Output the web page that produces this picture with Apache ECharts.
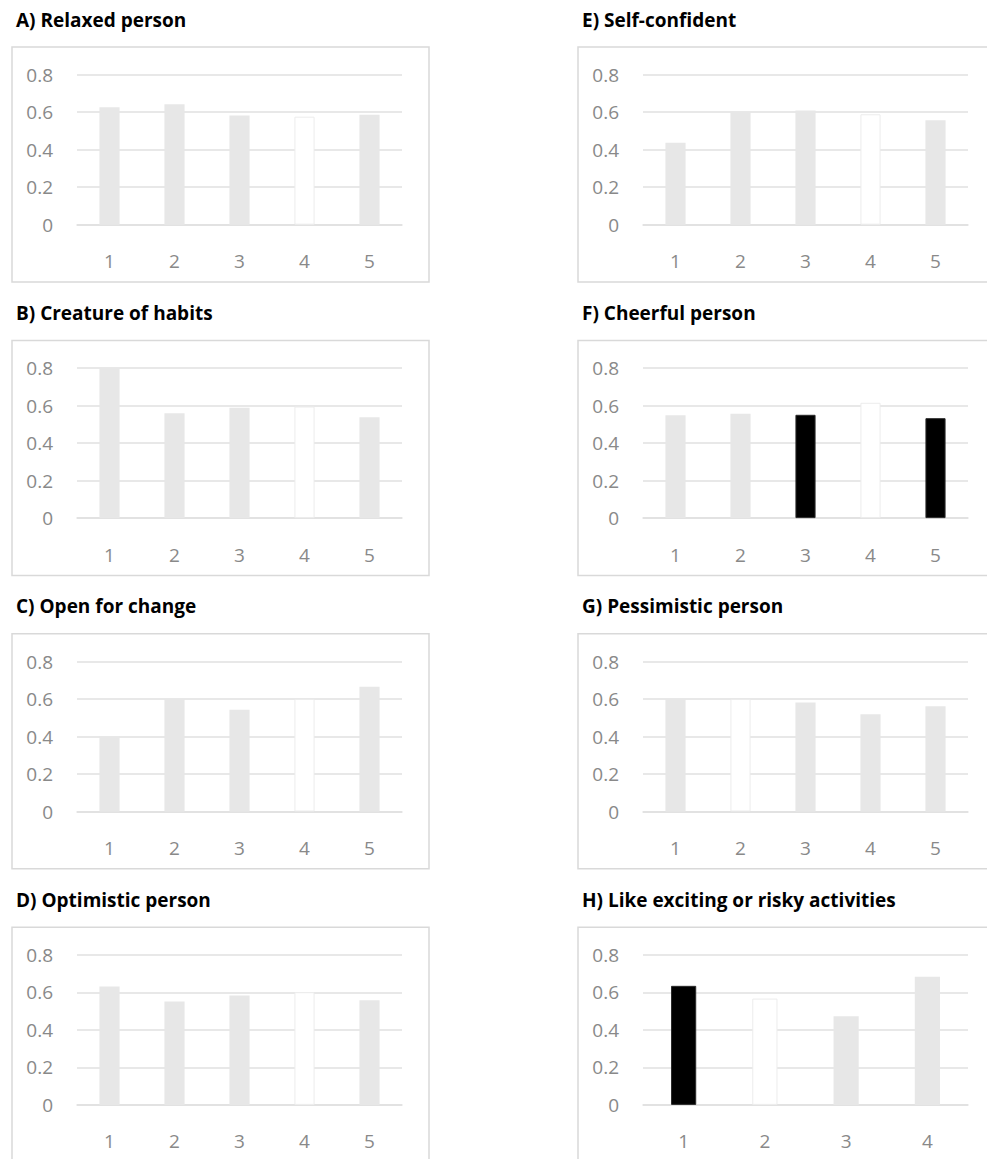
<!DOCTYPE html>
<html>
<head>
<meta charset="utf-8">
<script src="https://cdn.jsdelivr.net/npm/echarts@6/dist/echarts.min.js"></script>
<style>
html,body{margin:0;padding:0;background:#fff;}
#chart{width:987px;height:1159px;}
</style>
</head>
<body>
<div id="chart"></div>
<script>
// ---- data ----
const categories5 = ['1', '2', '3', '4', '5'];
const categories4 = ['1', '2', '3', '4'];
const yTicks = [0, 0.2, 0.4, 0.6, 0.8];

const titles = [
  'A) Relaxed person',
  'B) Creature of habits',
  'C) Open for change',
  'D) Optimistic person',
  'E) Self-confident',
  'F) Cheerful person',
  'G) Pessimistic person',
  'H) Like exciting or risky activities'
];

const valuesA = [0.626, 0.642, 0.583, 0.576, 0.587];
const valuesB = [0.800, 0.559, 0.589, 0.595, 0.538];
const valuesC = [0.400, 0.600, 0.543, 0.600, 0.666];
const valuesD = [0.631, 0.551, 0.583, 0.601, 0.558];
const valuesE = [0.437, 0.601, 0.609, 0.589, 0.557];
const valuesF = [0.549, 0.557, 0.551, 0.615, 0.533];
const valuesG = [0.600, 0.600, 0.581, 0.519, 0.562];
const valuesH = [0.635, 0.567, 0.473, 0.684];

// fill kind per bar: g = light gray, w = white, b = black
const kindsA = ['g', 'g', 'g', 'w', 'g'];
const kindsB = ['g', 'g', 'g', 'w', 'g'];
const kindsC = ['g', 'g', 'g', 'w', 'g'];
const kindsD = ['g', 'g', 'g', 'w', 'g'];
const kindsE = ['g', 'g', 'g', 'w', 'g'];
const kindsF = ['g', 'g', 'b', 'w', 'b'];
const kindsG = ['g', 'w', 'g', 'g', 'g'];
const kindsH = ['b', 'w', 'g', 'g'];

// ---- build ----
const panels = [
  {v: valuesA, k: kindsA, c: categories5},
  {v: valuesB, k: kindsB, c: categories5},
  {v: valuesC, k: kindsC, c: categories5},
  {v: valuesD, k: kindsD, c: categories5},
  {v: valuesE, k: kindsE, c: categories5},
  {v: valuesF, k: kindsF, c: categories5},
  {v: valuesG, k: kindsG, c: categories5},
  {v: valuesH, k: kindsH, c: categories4}
];

const STYLE = {
  g: {color: '#e7e7e7', borderColor: '#e7e7e7', borderWidth: 0},
  w: {color: '#ffffff', borderColor: '#ececec', borderWidth: 1},
  b: {color: '#000000', borderColor: '#2a2a2a', borderWidth: 1}
};

const colBox = [12, 578];
const colPlot = [77, 643];
const plotW = 325;
const rowTop0 = 47, rowStep = 293.4;
const boxW = 417, boxH = 235;
const axisGray = '#898989';
const gridGray = '#e0e0e0';
const FONT = '"Open Sans", "DejaVu Sans", sans-serif';

const grid = [], xAxis = [], yAxis = [], series = [], title = [], graphic = [];

panels.forEach((p, i) => {
  const col = i < 4 ? 0 : 1;
  const row = i % 4;
  const boxTop = rowTop0 + row * rowStep;
  const plotTop = boxTop + 27.7;

  graphic.push({
    type: 'rect',
    silent: true,
    z: -10,
    shape: {x: colBox[col], y: boxTop, width: boxW, height: boxH},
    style: {fill: '#ffffff', stroke: '#d9d9d9', lineWidth: 1.5}
  });

  title.push({
    text: titles[i],
    left: colBox[col] - 1,
    top: boxTop - 42,
    textStyle: {fontFamily: FONT, fontWeight: 'bold', fontSize: 19, color: '#000'}
  });

  grid.push({left: colPlot[col], top: plotTop, width: plotW, height: 150, containLabel: false});

  xAxis.push({
    type: 'category',
    gridIndex: i,
    data: p.c,
    axisLine: {show: true, lineStyle: {color: gridGray, width: 1.5}},
    axisTick: {show: false},
    axisLabel: {color: axisGray, fontSize: 19, fontFamily: FONT, margin: 27}
  });

  yAxis.push({
    type: 'value',
    gridIndex: i,
    min: yTicks[0],
    max: yTicks[yTicks.length - 1],
    interval: yTicks[1] - yTicks[0],
    axisLine: {show: false},
    axisTick: {show: false},
    splitLine: {show: true, lineStyle: {color: gridGray, width: 1.5}},
    axisLabel: {color: axisGray, fontSize: 19, fontFamily: FONT, margin: 24}
  });

  series.push({
    type: 'bar',
    xAxisIndex: i,
    yAxisIndex: i,
    barWidth: '31%',
    animation: false,
    data: p.v.map((val, j) => ({value: val, itemStyle: STYLE[p.k[j]]}))
  });
});

const chart = echarts.init(document.getElementById('chart'), null, {renderer: 'svg', width: 987, height: 1159});
chart.setOption({
  backgroundColor: '#ffffff',
  animation: false,
  title: title,
  grid: grid,
  xAxis: xAxis,
  yAxis: yAxis,
  series: series,
  graphic: graphic
});
</script>
</body>
</html>
